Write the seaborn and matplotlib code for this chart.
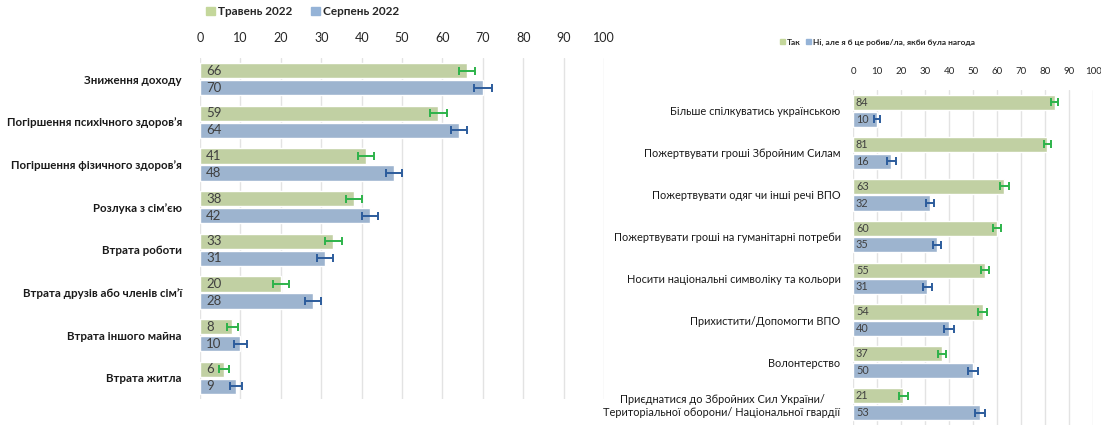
import matplotlib as mpl
mpl.use('Agg')
from matplotlib import pyplot as plt
from matplotlib.patches import Patch
import numpy as np
import pandas as pd
import seaborn as sb

sb.set_style("white")
plt.rcParams['font.family'] = ['Lato', 'DejaVu Sans']

# left panel data
left_cats = ["Зниження доходу", "Погіршення психічного здоров’я", "Погіршення фізичного здоров’я",
             "Розлука з сім’єю", "Втрата роботи", "Втрата друзів або членів сім’ї",
             "Втрата іншого майна", "Втрата житла"]
left_may = [66, 59, 41, 38, 33, 20, 8, 6]
left_aug = [70, 64, 48, 42, 31, 28, 10, 9]
left_may_err = [2.0, 2.0, 2.0, 2.0, 2.2, 2.0, 1.3, 1.2]
left_aug_err = [2.2, 2.0, 2.0, 2.0, 2.0, 2.0, 1.5, 1.5]
left_series = ["Травень 2022", "Серпень 2022"]

# right panel data
right_cats = ["Більше спілкуватись українською", "Пожертвувати гроші Збройним Силам",
              "Пожертвувати одяг чи інші речі ВПО", "Пожертвувати гроші на гуманітарні потреби",
              "Носити національні символіку та кольори", "Прихистити/Допомогти ВПО",
              "Волонтерство", "Приєднатися до Збройних Сил України/\nТериторіальної оборони/ Національної гвардії"]
right_yes = [84, 81, 63, 60, 55, 54, 37, 21]
right_no = [10, 16, 32, 35, 31, 40, 50, 53]
right_yes_err = [1.5, 1.4, 1.8, 1.8, 1.8, 2.0, 1.8, 2.0]
right_no_err = [1.2, 1.8, 1.8, 1.8, 1.8, 2.0, 2.0, 2.0]
right_series = ["Так", "Ні, але я б це робив/ла, якби була нагода"]

green = "#c4d79b"
blue = "#95b3d7"
err_colors = ["#2db34a", "#2c5c9c"]

fig = plt.figure(figsize=(11.01, 4.26), dpi=100)
axl = fig.add_axes([0.1817, 0.063, 0.367, 0.801])
axr = fig.add_axes([0.7748, 0.002, 0.218, 0.787])


def panel(ax, cats, v1, v2, e1, e2, names, labsize, valsize, ticksize, bold, pad, off):
    df = pd.DataFrame({"cat": cats * 2, "val": v1 + v2,
                       "series": [names[0]] * len(cats) + [names[1]] * len(cats)})
    errs = e1 + e2
    sb.barplot(data=df, x="val", y="cat", hue="series", orient="h",
               palette=[green, blue], width=0.8, gap=0.1, ax=ax, legend=False)
    bars = [p for p in ax.patches]
    for i, p in enumerate(bars):
        y = p.get_y() + p.get_height() / 2
        w = p.get_width()
        c = err_colors[0] if i < len(cats) else err_colors[1]
        ax.errorbar(w, y, xerr=errs[i], color=c, capsize=3, lw=1.4, capthick=1.4)
        ax.text(off, y, "%d" % round(w), va="center", ha="left", fontsize=valsize,
                color="#404040")
    ax.set_xlim(0, 100)
    ax.set_ylim(len(cats) - 0.5, -0.5)
    ax.set_xticks(np.arange(0, 101, 10))
    ax.xaxis.tick_top()
    ax.tick_params(axis="x", length=0, labelsize=ticksize, labelcolor="#262626", pad=10)
    ax.tick_params(axis="y", length=0, labelsize=labsize, labelcolor="#1a1a1a", pad=pad)
    for t in ax.get_yticklabels():
        t.set_fontweight("bold" if bold else "normal")
        t.set_multialignment("center")
    ax.grid(axis="x", color="#e3e3e3", lw=1)
    ax.set_axisbelow(True)
    for s in ax.spines.values():
        s.set_visible(False)
    ax.set_xlabel("")
    ax.set_ylabel("")


panel(axl, left_cats, left_may, left_aug, left_may_err, left_aug_err, left_series,
      8.3, 9.5, 9, True, 13, 1.5)
panel(axr, right_cats, right_yes, right_no, right_yes_err, right_no_err, right_series,
      7.9, 7.8, 7, False, 9, 1.2)

hl = [Patch(color=green), Patch(color=blue)]
fig.legend(hl, left_series, loc="center", bbox_to_anchor=(0.275, 0.972), ncol=2,
           frameon=False, handlelength=0.7, handleheight=0.7,
           columnspacing=1.6, handletextpad=0.3, prop={"weight": "bold", "size": 8.5})
fig.legend(hl, right_series, loc="center", bbox_to_anchor=(0.797, 0.901), ncol=2,
           frameon=False, handlelength=0.6, handleheight=0.6,
           columnspacing=0.6, handletextpad=0.3, prop={"weight": "bold", "size": 6})

fig.savefig("out.png", dpi=100)
